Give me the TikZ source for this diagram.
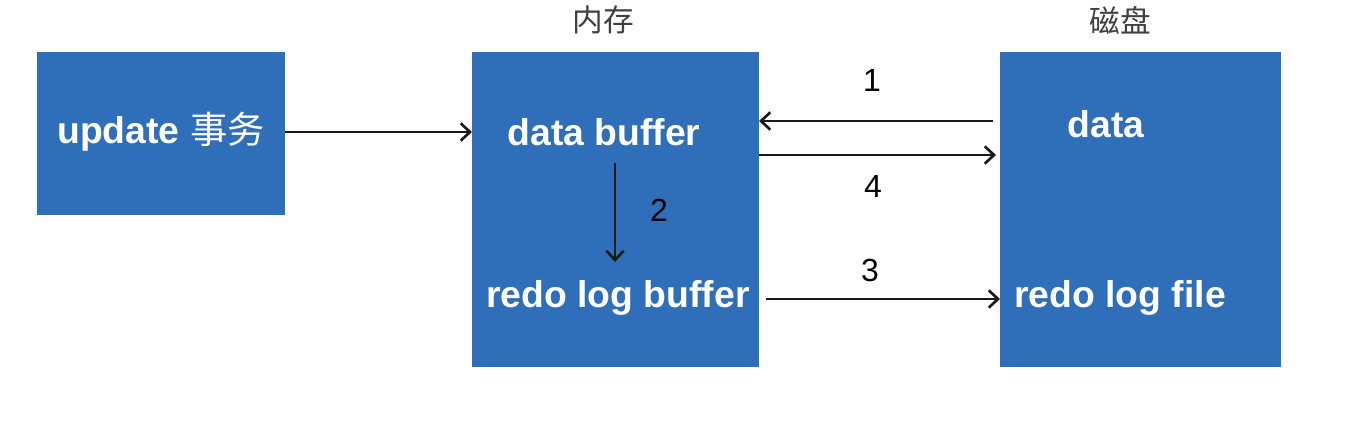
\documentclass[tikz,border=0pt]{standalone}
\usepackage{fontspec}
\setmainfont{Liberation Sans}
\newfontfamily\cjk{Noto Sans CJK SC}
\usetikzlibrary{arrows.meta}
\definecolor{boxblue}{RGB}{47,111,186}
\tikzset{
  blk/.style={fill=boxblue, draw=none, inner sep=0pt},
  wtxt/.style={text=white, font=\fontsize{28}{31}\selectfont\bfseries, inner sep=0pt, anchor=center},
  num/.style={font=\fontsize{24}{28}\selectfont, inner sep=0pt},
  hdr/.style={font=\cjk\fontsize{23}{26}\selectfont, text=black!75, inner sep=0pt},
  arr/.style={-{Straight Barb[length=7pt,width=13pt,line width=2pt]}, line width=2.2pt, black!90}
}
\begin{document}
\begin{tikzpicture}[x=0.75pt,y=-0.75pt]
\useasboundingbox (0,0) rectangle (1356,430);
\fill[white] (0,0) rectangle (1356,430);
% boxes
\path[blk] (37,52) rectangle (285,215);
\path[blk] (472,52) rectangle (759,367);
\path[blk] (1000,52) rectangle (1281,367);
\coordinate (b1e) at (285,132);
\coordinate (b2w) at (472,132);
% headers
\node[hdr] (mem) at (603,20) {内存};
\node[hdr] (disk) at (1120,20) {磁盘};
% texts
\node[wtxt] (upd) at (161,132) {update {\cjk\mdseries 事务}};
\node[wtxt] (db) at (604,132) {data buffer};
\node[wtxt] (rlb) at (618,298) {redo log buffer};
\node[wtxt] (dat) at (1106,124) {data};
\node[wtxt] (rlf) at (1120,298) {redo log file};
% arrow anchors
\coordinate (a1s) at (993,121);
\coordinate (a1e) at (759,121);
\coordinate (a4s) at (759,155);
\coordinate (a4e) at (996,155);
\coordinate (a2s) at (615,163);
\coordinate (a2e) at (615,262);
\coordinate (a3s) at (766,299);
\coordinate (a3e) at (1000,299);
\draw[arr] (b1e) -- (b2w);
\draw[arr] (a1s) -- (a1e);
\draw[arr] (a4s) -- (a4e);
\draw[arr] (a2s) -- (a2e);
\draw[arr] (a3s) -- (a3e);
% numbers
\node[num] (n1) at (872,80) {1};
\node[num] (n4) at (873,186) {4};
\node[num] (n2) at (659,210) {2};
\node[num] (n3) at (870,270) {3};
\end{tikzpicture}
\end{document}
